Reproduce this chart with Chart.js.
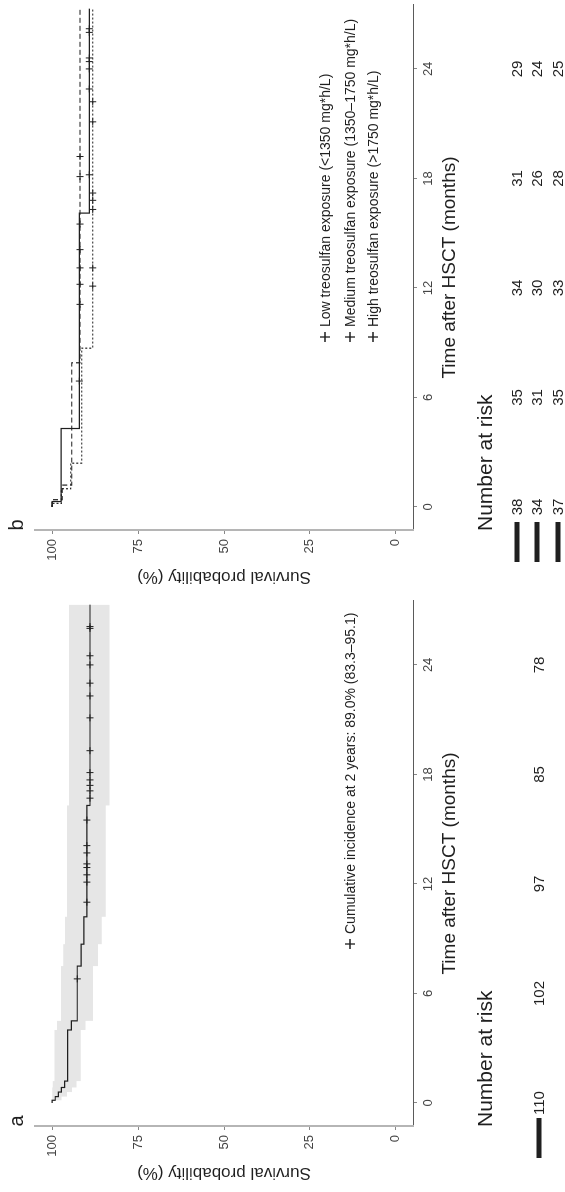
<!DOCTYPE html>
<html>
<head>
<meta charset="utf-8">
<script src="https://cdn.jsdelivr.net/npm/chart.js@4"></script>
<style>
  html, body { margin: 0; padding: 0; background: #fff; overflow: hidden; }
  /* the figure is laid out landscape and turned a quarter turn counter-clockwise */
  #fig { position: absolute; left: 0; top: 0; width: 1192px; height: 565px;
         transform-origin: 0 0; transform: translate(0, 1192px) rotate(-90deg); }
  #fig canvas { position: absolute; top: 0; }
</style>
</head>
<body>
<div id="fig">
  <canvas id="chartA" width="596" height="565" style="left:0"></canvas>
  <canvas id="chartB" width="596" height="565" style="left:596px"></canvas>
</div>
<script>
// ticks
const timeTicks = [0, 6, 12, 18, 24];
const survTicks = [0, 25, 50, 75, 100];

// panel a - all patients
const allTime  = [0, 0.15, 0.35, 0.6, 0.85, 1.2, 4.0, 4.5, 7.5, 8.7, 10.2, 16.3, 27.3];
const allSurv  = [100, 99.1, 98.2, 97.3, 96.4, 95.5, 94.4, 92.7, 91.6, 90.8, 89.9, 89.0, 89.0];
const allLower = [100, 97.3, 95.7, 94.2, 92.9, 91.7, 90.3, 88.1, 86.7, 85.6, 84.4, 83.3, 83.3];
const allUpper = [100, 100, 100, 100, 99.8, 99.3, 98.6, 97.4, 96.8, 96.3, 95.7, 95.1, 95.1];
const allCensor = [6.8, 11.0, 12.1, 12.5, 12.9, 13.1, 13.7, 14.1, 15.5, 16.7, 17.1, 17.4, 17.7,
                   18.1, 19.3, 21.1, 22.3, 23.0, 24.0, 24.5, 26.0, 26.1];
const allRisk = [110, 102, 97, 85, 78];

// panel b - treosulfan exposure groups
const lowTime  = [0, 0.3, 4.3, 16.1, 27.3];
const lowSurv  = [100, 97.4, 92.1, 89.2, 89.2];
const lowCensor = [6.9, 18.2, 22.9, 24.0, 24.4, 24.6, 26.0, 26.2];
const medTime  = [0, 0.4, 1.2, 7.9, 27.3];
const medSurv  = [100, 97.1, 94.3, 91.9, 91.9];
const medCensor = [11.1, 12.2, 13.1, 14.1, 15.5, 18.1, 19.2];
const highTime = [0, 0.2, 1.0, 2.4, 8.7, 27.3];
const highSurv = [100, 97.3, 94.6, 91.4, 88.2, 88.2];
const highCensor = [12.1, 13.1, 16.3, 16.8, 17.2, 21.1, 22.2];
const lowRisk  = [38, 35, 34, 31, 29];
const medRisk  = [34, 31, 30, 26, 24];
const highRisk = [37, 35, 33, 28, 25];

const legendA = ['Cumulative incidence at 2 years: 89.0% (83.3\u201395.1)'];
const legendB = ['Low treosulfan exposure (<1350 mg*h/L)',
                 'Medium treosulfan exposure (1350\u20131750 mg*h/L)',
                 'High treosulfan exposure (>1750 mg*h/L)'];

const FONT = '"Liberation Sans", Arial, Helvetica, sans-serif';
const INK = '#1f1f1f';

const pts = (xs, ys) => xs.map((x, i) => ({ x: x, y: ys[i] }));
function stepAt(ts, ss, t) {
  let v = ss[0];
  for (let i = 0; i < ts.length; i++) if (ts[i] <= t) v = ss[i];
  return v;
}
const censorPts = (cs, ts, ss) => cs.map(t => ({ x: t, y: stepAt(ts, ss, t) }));

// KM steps: the value holds until the next time, then drops ('before' in Chart.js terms)
function curve(ts, ss, dash) {
  return { data: pts(ts, ss), stepped: 'before', borderColor: INK, borderWidth: 1.2,
           borderDash: dash, pointRadius: 0, fill: false, order: 1 };
}
function marks(cs, ts, ss) {
  return { data: censorPts(cs, ts, ss), showLine: false, pointStyle: 'cross', pointRadius: 3.5,
           borderColor: INK, borderWidth: 1, order: 0 };
}

function cross(ctx, x, y, r) {
  ctx.beginPath();
  ctx.moveTo(x - r, y); ctx.lineTo(x + r, y);
  ctx.moveTo(x, y - r); ctx.lineTo(x, y + r);
  ctx.stroke();
}

// panel tag, legend and number-at-risk table
const extras = {
  id: 'extras',
  afterDraw(chart, args, o) {
    const ctx = chart.ctx, xs = chart.scales.x;
    ctx.save();
    ctx.fillStyle = INK; ctx.strokeStyle = INK; ctx.lineWidth = 1.3;
    ctx.font = '20px ' + FONT;
    ctx.textAlign = 'center'; ctx.textBaseline = 'middle';
    ctx.fillText(o.tag, 71, 17);

    ctx.font = '14px ' + FONT;
    ctx.textAlign = 'left';
    o.legend.forEach((txt, i) => {
      const y = o.legendY[i];
      cross(ctx, o.legendX, y, 5);
      ctx.fillText(txt, o.legendX + 10, y + 1);
    });

    ctx.font = '21px ' + FONT;
    ctx.textBaseline = 'alphabetic';
    ctx.fillText('Number at risk', 65, 492);

    ctx.font = '15px ' + FONT;
    ctx.textAlign = 'center'; ctx.textBaseline = 'middle';
    o.risk.forEach((row, i) => {
      const y = o.riskY[i];
      ctx.fillRect(34, y - 2.5, 40, 5);
      row.forEach((n, j) => ctx.fillText(String(n), xs.getPixelForValue(timeTicks[j]), y + 1));
    });
    ctx.restore();
  }
};

function makePanel(id, datasets, extraOpts) {
  return new Chart(document.getElementById(id), {
    type: 'line',
    data: { datasets: datasets },
    plugins: [extras],
    options: {
      responsive: false, animation: false, devicePixelRatio: 1,
      layout: { padding: { top: 35, right: 0, bottom: 102, left: 0 } },
      plugins: { legend: { display: false }, tooltip: { enabled: false }, extras: extraOpts },
      scales: {
        x: {
          type: 'linear', min: -1.26, max: 27.5,
          afterBuildTicks: s => { s.ticks = timeTicks.map(v => ({ value: v })); },
          afterFit: s => { s.height = 50; },
          grid: { drawOnChartArea: false, drawTicks: true, tickLength: 4, tickColor: '#888' },
          border: { display: true, color: '#5a5a5a', width: 1 },
          ticks: { color: '#444', padding: 4, maxRotation: 0, font: { family: FONT, size: 13 } },
          title: { display: true, text: 'Time after HSCT (months)', color: INK,
                   padding: { top: 0, bottom: 2 }, font: { family: FONT, size: 19 } }
        },
        y: {
          type: 'linear', min: -5, max: 105,
          afterBuildTicks: s => { s.ticks = survTicks.map(v => ({ value: v })); },
          afterFit: s => { s.width = 66; },
          grid: { drawOnChartArea: false, drawTicks: true, tickLength: 4, tickColor: '#888' },
          border: { display: true, color: '#b5b5b5', width: 2 },
          ticks: { color: '#444', padding: 5, font: { family: FONT, size: 13 } },
          title: { display: true, text: 'Survival probability (%)', color: INK,
                   padding: { top: 9, bottom: 0 }, font: { family: FONT, size: 17 } }
        }
      }
    }
  });
}

makePanel('chartA', [
  { data: pts(allTime, allUpper), stepped: 'before', borderWidth: 0, pointRadius: 0, fill: false, order: 3 },
  { data: pts(allTime, allLower), stepped: 'before', borderWidth: 0, pointRadius: 0, fill: '-1',
    backgroundColor: '#e6e6e6', order: 2 },
  curve(allTime, allSurv, []),
  marks(allCensor, allTime, allSurv)
], { tag: 'a', legend: legendA, legendX: 248, legendY: [350], risk: [allRisk], riskY: [539] });

makePanel('chartB', [
  curve(lowTime, lowSurv, []),
  curve(medTime, medSurv, [5, 3]),
  curve(highTime, highSurv, [2, 2]),
  marks(lowCensor, lowTime, lowSurv),
  marks(medCensor, medTime, medSurv),
  marks(highCensor, highTime, highSurv)
], { tag: 'b', legend: legendB, legendX: 259, legendY: [325, 350, 373],
     risk: [lowRisk, medRisk, highRisk], riskY: [517, 537, 558] });
</script>
</body>
</html>
